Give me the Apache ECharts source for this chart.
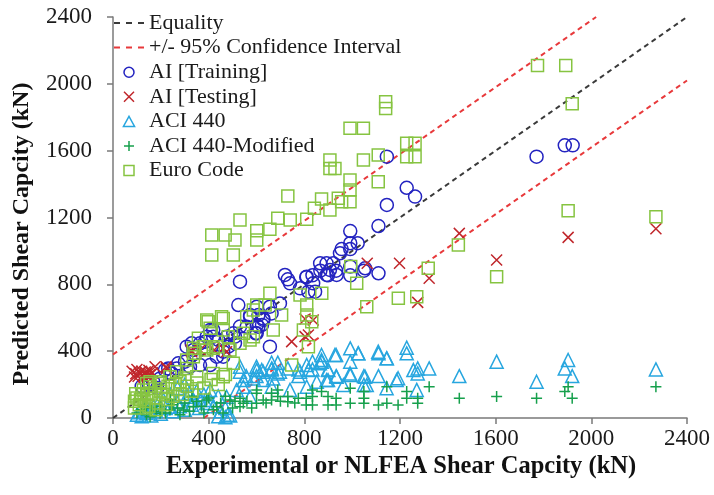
<!DOCTYPE html>
<html>
<head>
<meta charset="utf-8">
<script src="https://cdn.jsdelivr.net/npm/echarts@6/dist/echarts.min.js"></script>
<style>
html,body{margin:0;padding:0;background:#fff;}
#chart{width:714px;height:495px;}
</style>
</head>
<body>
<div id="chart"></div>
<script>
// ---- Data (kN) ----
const xTitle = 'Experimental or NLFEA Shear Capcity (kN)';
const yTitle = 'Predicted Shear Capcity (kN)';
const seriesNames = ['Equality', '+/- 95% Confidence Interval', 'AI [Training]', 'AI [Testing]', 'ACI 440', 'ACI 440-Modified', 'Euro Code'];

const equalityLine = [[0, 0], [2400, 2400]];
const ciUpperLine = [[0, 380], [2020, 2400]];
const ciLowerLine = [[380, 0], [2400, 2020]];

const aiTraining = [
  [1771,1564],[1889,1632],[1922,1632],[1145,1564],[1228,1378],[1263,1325],[1145,1275],[1110,1149],
  [992,1119],[1023,1046],[992,1046],[956,1011],[992,1011],[992,906],[992,854],[1049,882],[1110,866],[1054,896],
  [866,926],[893,926],[921,926],[949,986],[907,886],[935,856],[893,856],[933,882],[899,854],[867,882],
  [834,854],[808,843],[719,856],[740,806],[782,776],[810,846],[837,806],[817,756],[845,756],[531,816],[731,830],
  [524,676],[601,666],[656,666],[698,686],[663,626],[628,596],[573,606],[601,557],[656,427],[623,557],[597,507],
  [573,616],[608,616],[629,587],[608,546],[559,546],[601,507],
  [531,547],[503,507],[475,487],[419,527],[392,487],[364,447],[336,407],[308,427],[406,527],[419,487],[440,467],
  [482,427],[461,397],[510,487],[510,447],[329,447],[385,457],[364,317],[301,337],[273,327],[217,287],[245,267],
  [197,237],[168,217],[461,367],[406,317],[434,367],[322,307],[266,297],[231,297],[120,190],[150,200],[185,180]
];

const aiTesting = [
  [2270,1133],[1903,1081],[1448,1105],[1604,946],[1198,926],[1063,926],[1322,836],[1274,692],
  [803,593],[837,587],[803,487],[817,497],[747,457],[423,407],[326,407],[364,407],[461,417],[475,397],
  [329,397],[176,307],[222,307],[224,297],
  [80,280],[95,265],[100,290],[110,270],[120,280],[125,255],[135,275],[140,265],[150,285],[155,260],
  [165,270],[130,240],[105,250],[90,245],[145,245]
];

const aci440 = [
  [2270,291],[1903,347],[1889,297],[1920,251],[1771,217],[1604,337],[1448,251],[1322,297],[1274,297],[1274,267],
  [1228,421],[1228,387],[1192,238],[1145,357],[1110,387],[1110,251],[1049,251],[1049,198],[1025,387],[992,417],
  [992,337],[992,257],[933,377],[899,291],[933,251],[899,227],[872,377],[872,347],[834,337],[834,291],[775,291],
  [775,251],[731,297],[689,331],[689,267],[663,331],[663,291],[600,307],[600,251],[557,251],[531,307],[531,277],
  [1026,387],[1109,397],[1144,357],[928,377],[873,337],[865,327],[810,317],[817,287],[664,297],[698,277],[622,287],
  [782,277],[900,287],[935,247],[991,267],[1054,247],[1186,227],[1256,287],[893,227],[852,217],[740,168],[628,227],
  [670,237],[664,187],[963,197],[1061,197],[1144,178],[1270,168],[810,187],
  [601,287],[628,277],[587,237],[545,227],[545,187],[573,127],[517,168],[475,127],[406,168],[406,108],[364,108],
  [336,108],[308,127],[266,98],[238,68],
  [100,20],[120,10],[140,30],[160,15],[180,40],[200,25],[130,45],[150,50],[110,35],[220,60],[250,40],[280,70],
  [300,50],[330,80],[360,60],[390,90],[420,70],[450,40],[480,20],[470,60],[440,130],[380,140],[350,160],[320,150],
  [300,200],[270,180],[240,140],[210,110],[190,90],[170,70],[440,10],[470,5],[490,15]
];

const aci440Modified = [
  [2270,187],[1903,187],[1889,158],[1920,118],[1771,118],[1604,128],[1448,118],[1322,187],[1274,118],[1274,88],
  [1228,118],[1228,158],[1192,78],[1145,187],[1145,88],[1110,78],[1049,158],[1049,118],[1049,88],[992,178],[992,88],
  [933,118],[933,78],[899,128],[899,78],[872,158],[834,168],[834,128],[834,78],[808,118],[808,78],[775,118],[731,128],
  [731,98],[689,168],[689,128],[663,148],[663,108],[600,148],[600,88],[531,118],[531,68],
  [601,168],[628,108],[545,88],[489,108],[434,68],[392,108],[336,68],[294,48],[238,48],[197,28],[155,8],
  [100,30],[120,50],[140,20],[160,60],[180,40],[200,70],[220,30],[250,80],[270,60],[300,90],[320,40],[350,100],
  [370,70],[400,120],[420,50],[450,90],[470,130],[500,60],[510,100],[460,30],[380,30],[280,20],[130,70],[240,110],
  [330,130],[560,100],[580,60],[640,90],[700,100],[760,90]
];

const euroCode = [
  [1775,2109],[1893,2109],[1920,1881],[1903,1241],[2270,1205],[1140,1893],[1140,1853],[991,1734],[1047,1734],
  [1228,1644],[1263,1644],[1228,1564],[1263,1564],[1047,1544],[1109,1574],[907,1544],[928,1494],[907,1494],
  [991,1424],[991,1364],[942,1315],[991,1295],[956,1295],[907,1245],[1109,1414],[872,1311],[842,1255],[731,1329],
  [689,1195],[741,1185],[531,1185],[601,1121],[601,1065],[656,1129],[810,1189],[413,1095],[469,1095],[510,1065],
  [413,976],[503,976],
  [1444,1035],[1318,896],[1019,806],[1193,716],[1270,726],[1604,846],[1061,666],[994,906],
  [873,746],[656,746],[810,676],[782,736],[705,616],[587,646],[559,606],[545,507],[461,596],[398,576],[796,527],
  [817,427],[747,317],[670,527],[831,576],[810,617],
  [531,447],[489,407],[434,427],[392,407],[343,387],[503,327],[461,247],[419,267],[350,247],[280,217],[197,207],
  [141,207],[141,147],
  [601,676],[636,676],[392,587],[454,606],[461,527],[482,487],[406,537],[573,467],[587,487],[357,477],[378,427],
  [419,417],[336,417],[336,367],[308,347],[308,297],[266,277],[238,247],[155,217],[197,217],[155,187],[127,168],
  [90,60],[110,80],[130,100],[150,70],[170,120],[190,90],[210,140],[230,110],[100,120],[120,140],[140,60],[160,150],
  [180,50],[200,160],[220,80],[250,130],[270,170],[290,140],[310,190],[330,160],[350,210],[380,180],[410,230],
  [440,200],[470,260],[300,240],[260,200],[230,190],[90,100],[115,110],[95,145],[175,175]
];

// ---- Chart ----
const FONT = 'Liberation Serif';
const chart = echarts.init(document.getElementById('chart'), null, {renderer: 'canvas'});

const COLORS = {
  equality: '#3a3a3a', ci: '#e8393b', training: '#2323c0', testing: '#c0262b',
  aci: '#27a6df', aciMod: '#16a04c', euro: '#86c441'
};

const crossPath = 'path://M0,0L10,10M10,0L0,10';
const plusPath = 'path://M5,0L5,10M0,5L10,5';
const squarePath = 'path://M0,0L10,0L10,10L0,10Z';
const trianglePath = 'path://M5,0L10,9L0,9Z';
const dashIcon = 'path://M0,0h6v2h-6zM12,0h6v2h-6zM24,0h6v2h-6z';

function scatter(name, data, symbol, size, color) {
  return {
    name: name, type: 'scatter', data: data, symbol: symbol, symbolSize: size,
    itemStyle: {color: 'rgba(0,0,0,0)', borderColor: color, borderWidth: 1.5, opacity: 1},
    emphasis: {disabled: true}, z: 3
  };
}
function dashed(name, data, color) {
  return {
    name: name, type: 'line', data: data, symbol: 'none', showSymbol: false,
    lineStyle: {color: color, width: 2, type: [5, 4]},
    itemStyle: {color: color},
    emphasis: {disabled: true}, z: 2
  };
}
function lineLegend(name, color) {
  return {name: name, icon: dashIcon, itemStyle: {color: color, borderWidth: 0}};
}
function markLegend(name, icon, color) {
  return {name: name, icon: icon, itemStyle: {color: 'rgba(0,0,0,0)', borderColor: color, borderWidth: 1.5}};
}

chart.setOption({
  animation: false,
  backgroundColor: '#fff',
  grid: {left: 113, right: 27, top: 17, bottom: 77, containLabel: false},
  xAxis: {
    type: 'value', min: 0, max: 2400, interval: 400,
    axisLine: {show: true, lineStyle: {color: '#7a7a7a', width: 1.5}},
    axisTick: {show: true, inside: false, length: 6, lineStyle: {color: '#7a7a7a', width: 1.5}},
    axisLabel: {fontFamily: FONT, fontSize: 23, color: '#1a1a1a', margin: 9, formatter: v => String(v)},
    splitLine: {show: false}
  },
  yAxis: {
    type: 'value', min: 0, max: 2400, interval: 400,
    axisLine: {show: true, lineStyle: {color: '#7a7a7a', width: 1.5}},
    axisTick: {show: true, inside: false, length: 6, lineStyle: {color: '#7a7a7a', width: 1.5}},
    axisLabel: {fontFamily: FONT, fontSize: 23, color: '#1a1a1a', margin: 21, formatter: v => String(v)},
    splitLine: {show: false}
  },
  legend: {
    orient: 'vertical', left: 114, top: 12, padding: 0,
    itemWidth: 30, itemHeight: 10, itemGap: 2.6,
    symbolKeepAspect: true,
    textStyle: {fontFamily: FONT, fontSize: 22, color: '#1a1a1a', lineHeight: 21},
    data: [
      lineLegend(seriesNames[0], COLORS.equality),
      lineLegend(seriesNames[1], COLORS.ci),
      markLegend(seriesNames[2], 'circle', COLORS.training),
      markLegend(seriesNames[3], crossPath, COLORS.testing),
      markLegend(seriesNames[4], trianglePath, COLORS.aci),
      markLegend(seriesNames[5], plusPath, COLORS.aciMod),
      markLegend(seriesNames[6], squarePath, COLORS.euro)
    ],
    selectedMode: false
  },
  graphic: [
    {type: 'text', x: 401, y: 467,
     style: {text: xTitle, fontFamily: FONT, fontSize: 24.5, fontWeight: 'bold', fill: '#111',
             align: 'center', verticalAlign: 'middle'}},
    {type: 'text', x: 22, y: 234, rotation: Math.PI / 2,
     style: {text: yTitle, fontFamily: FONT, fontSize: 24, fontWeight: 'bold', fill: '#111',
             align: 'center', verticalAlign: 'middle'}}
  ],
  series: [
    dashed(seriesNames[0], equalityLine, COLORS.equality),
    dashed(seriesNames[1], ciUpperLine, COLORS.ci),
    dashed(seriesNames[1], ciLowerLine, COLORS.ci),
    scatter(seriesNames[2], aiTraining, 'circle', 13, COLORS.training),
    scatter(seriesNames[3], aiTesting, crossPath, 11, COLORS.testing),
    scatter(seriesNames[4], aci440, 'triangle', 13, COLORS.aci),
    scatter(seriesNames[5], aci440Modified, plusPath, 11, COLORS.aciMod),
    scatter(seriesNames[6], euroCode, 'rect', 12, COLORS.euro)
  ]
});
</script>
</body>
</html>
